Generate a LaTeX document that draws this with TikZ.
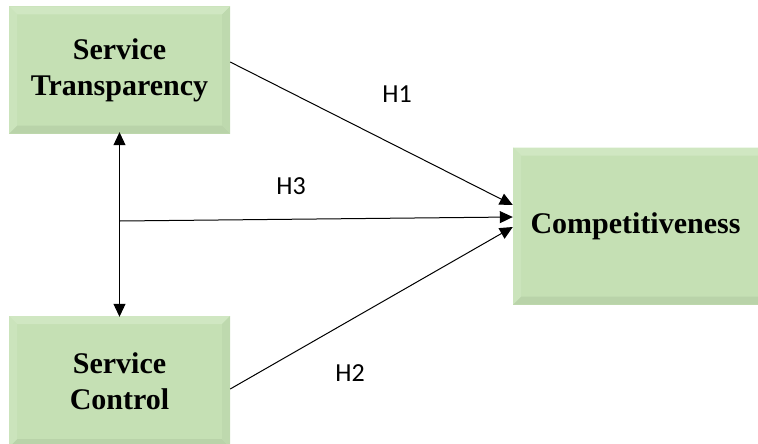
\documentclass[tikz,border=0pt]{standalone}
\usepackage{fontspec}
\setmainfont{Liberation Serif}
\newfontfamily\hypfont{Carlito}
\usetikzlibrary{arrows.meta}
\definecolor{boxg}{RGB}{197,224,180}
\definecolor{bevtop}{RGB}{208,231,194}
\definecolor{bevleft}{RGB}{203,228,188}
\definecolor{bevright}{RGB}{190,217,174}
\definecolor{bevbot}{RGB}{185,211,169}
\tikzset{every picture/.style={x=1pt,y=-1pt}}
\tikzset{factor/.style={fill=boxg,inner sep=0pt,align=center,
  minimum width=221pt,minimum height=127pt,
  font=\bfseries\fontsize{30}{36}\selectfont,
  path picture={
    \fill [bevtop] (path picture bounding box.north west) -- (path picture bounding box.north east)
      -- ([shift={(-8pt,-8pt)}]path picture bounding box.north east) -- ([shift={(8pt,-8pt)}]path picture bounding box.north west) -- cycle;
    \fill [bevbot] (path picture bounding box.south west) -- (path picture bounding box.south east)
      -- ([shift={(-8pt,8pt)}]path picture bounding box.south east) -- ([shift={(8pt,8pt)}]path picture bounding box.south west) -- cycle;
    \fill [bevleft] (path picture bounding box.north west) -- (path picture bounding box.south west)
      -- ([shift={(8pt,8pt)}]path picture bounding box.south west) -- ([shift={(8pt,-8pt)}]path picture bounding box.north west) -- cycle;
    \fill [bevright] (path picture bounding box.north east) -- (path picture bounding box.south east)
      -- ([shift={(-8pt,8pt)}]path picture bounding box.south east) -- ([shift={(-8pt,-8pt)}]path picture bounding box.north east) -- cycle;
  }}}
\tikzset{link/.style={-{Triangle[length=13pt,width=12pt]},line width=1pt}}
\tikzset{hyp/.style={font=\hypfont\fontsize{26}{30}\selectfont}}

\begin{document}
\begin{tikzpicture}
\useasboundingbox (0,0) rectangle (758,444);
\node [factor] (trans) at (119.5,70) {Service\\Transparency};
\node [factor,minimum height=131pt] (ctrl) at (119.5,381.5) {Service\\Control};
\node [factor,minimum width=253pt,minimum height=157pt] (comp) at (639.5,226) {\hspace*{-8pt}Competitiveness};
\coordinate (j) at (120,221);

\draw [link,{Triangle[length=13pt,width=12pt]}-{Triangle[length=13pt,width=12pt]}] ([yshift=1.5pt]trans.south) -- ([yshift=-1pt]ctrl.north);
\draw [link] ([yshift=8pt]trans.east) -- ([yshift=21pt]comp.west);
\draw [link] (j) -- ([yshift=9pt]comp.west);
\draw [link] ([yshift=-7.5pt]ctrl.east) -- ([yshift=-1pt]comp.west);

\node [hyp] (h1) at (397,94) {H1};
\node [hyp] (h3) at (291,186) {H3};
\node [hyp] (h2) at (350,373) {H2};
\end{tikzpicture}
\end{document}
